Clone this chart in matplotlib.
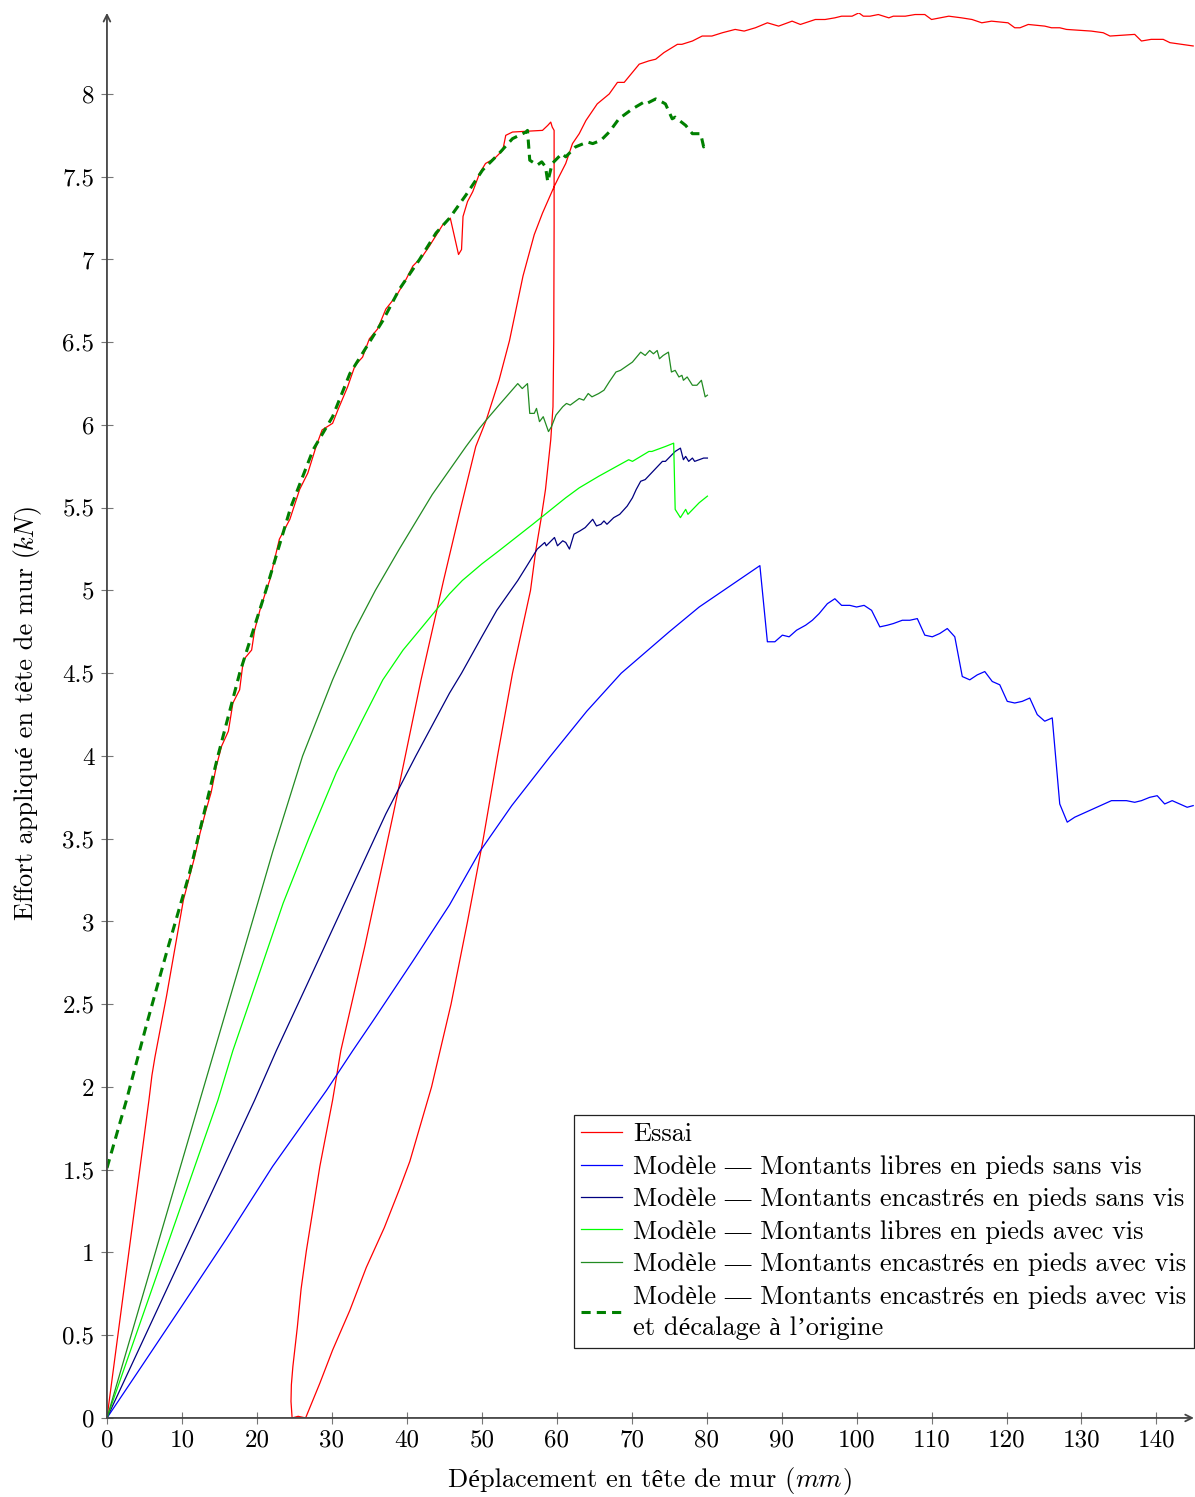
import matplotlib
matplotlib.use("Agg")
import matplotlib.pyplot as plt
from matplotlib.ticker import FuncFormatter

plt.rcParams['font.family'] = ['cmr10', 'Liberation Serif']
plt.rcParams['axes.unicode_minus'] = False

# ### --- Essai (charge, décharge, recharge) -----------------------------
essai_x = [0, 5.6, 6.0, 6.4, 7.95, 10.2, 11.7, 12.4, 13.2, 13.9, 14.6, 15.3, 16.2, 16.8, 17.7,
           18.2, 19.3, 19.7, 20.4, 21.1, 21.7, 23.0, 24.4, 25.7, 26.8, 27.9, 28.7, 30.1, 30.8,
           32.1, 33.1, 34.1, 35.0, 36.1, 37.2, 38.6, 39.9, 40.8, 42.1, 43.0, 44.1, 44.8, 45.8,
           46.3, 46.9, 47.3, 47.5, 48.1, 48.8, 49.7, 50.5, 51.7, 52.8, 53.2, 54.1, 58.1, 58.8,
           59.2, 59.4,
           # décharge
           59.65, 59.65, 59.6, 59.5, 59.2, 58.5, 57.9, 57.2, 56.5, 55.3, 54.1, 52.1, 50.2, 48.1,
           45.9, 43.3, 40.4, 39.0, 37.0, 34.6, 32.4, 30.1, 28.4, 26.5, 25.5, 24.7,
           # recharge
           24.55, 24.6, 24.8, 25.4, 25.9, 26.6, 28.4, 30.1, 31.2, 34.4, 38.2, 41.9, 44.9, 47.2,
           49.2, 50.6, 52.3, 53.7, 55.5, 57.0, 58.1, 59.65, 60.3, 61.2, 62.1, 63.0, 63.9, 65.4,
           67.0, 68.1, 69.0, 71.0, 72.3, 73.2, 74.3, 76.1, 76.7, 78.1, 79.4, 80.7, 82.1, 83.8,
           85.0, 86.5, 88.1, 89.6, 91.4, 92.5, 94.5, 95.8, 97.1, 98.0, 99.4, 100.3, 100.9, 101.8,
           102.9, 104.3, 104.9, 106.5, 107.8, 109.1, 110.0, 112.3, 114.0, 115.4, 116.7, 118.0,
           120.2, 121.1, 121.8, 122.9, 125.1, 126.0, 127.1, 128.0, 131.3, 132.9, 133.8, 137.1,
           138.0, 139.3, 140.9, 141.8, 143.3, 144.9]
essai_y = [0, 1.92, 2.07, 2.18, 2.55, 3.13, 3.39, 3.53, 3.67, 3.78, 3.94, 4.06, 4.15, 4.32, 4.40,
           4.58, 4.64, 4.76, 4.88, 4.98, 5.06, 5.31, 5.43, 5.61, 5.71, 5.87, 5.97, 6.01, 6.09,
           6.23, 6.36, 6.41, 6.52, 6.58, 6.70, 6.78, 6.88, 6.96, 7.02, 7.08, 7.16, 7.21, 7.25,
           7.15, 7.03, 7.06, 7.26, 7.35, 7.41, 7.52, 7.58, 7.61, 7.66, 7.75, 7.77, 7.78, 7.81,
           7.83, 7.80,
           7.78, 7.2, 6.5, 6.11, 5.91, 5.61, 5.43, 5.24, 5.0, 4.75, 4.5, 4.0, 3.5, 3.0,
           2.5, 2.0, 1.55, 1.38, 1.15, 0.91, 0.65, 0.41, 0.21, 0.0, 0.01, 0.0,
           0.1, 0.2, 0.31, 0.55, 0.78, 1.01, 1.52, 1.92, 2.22, 2.85, 3.65, 4.46, 5.06, 5.5,
           5.87, 6.03, 6.27, 6.51, 6.9, 7.15, 7.28, 7.44, 7.50, 7.58, 7.70, 7.76, 7.84, 7.94,
           8.0, 8.07, 8.07, 8.18, 8.20, 8.21, 8.25, 8.30, 8.30, 8.32, 8.35, 8.35, 8.37, 8.39,
           8.38, 8.40, 8.43, 8.41, 8.44, 8.42, 8.45, 8.45, 8.46, 8.47, 8.47, 8.49, 8.47, 8.47,
           8.48, 8.46, 8.47, 8.47, 8.48, 8.48, 8.45, 8.47, 8.46, 8.45, 8.43, 8.44,
           8.43, 8.40, 8.40, 8.42, 8.41, 8.40, 8.40, 8.39, 8.38, 8.37, 8.35, 8.36,
           8.32, 8.33, 8.33, 8.31, 8.30, 8.29]

# ### --- Modèle : montants libres en pieds sans vis ---------------------
libre_sans_x = [0, 4.0, 9.9, 15.9, 22.1, 29.3, 32.8, 35.5, 40.8, 45.7, 49.7, 54.0, 59.0, 64.0,
                68.6, 75.0, 79.0, 87.1, 88.1, 89.1, 90.1, 91.0, 92.0, 93.2, 94.1, 95.0, 96.1,
                97.1, 98.0, 99.1, 100.0, 101.0, 102.0, 103.1, 104.1, 104.9, 106.1, 107.1, 108.1,
                109.1, 110.1, 111.1, 112.1, 113.1, 114.1, 115.1, 116.1, 117.1, 118.1, 119.1,
                120.1, 121.1, 122.1, 123.1, 124.1, 125.1, 126.1, 127.1, 128.1, 129.1, 134.0,
                136.0, 137.1, 138.0, 139.1, 140.1, 141.1, 142.1, 143.1, 144.1, 144.9]
libre_sans_y = [0, 0.27, 0.67, 1.08, 1.52, 1.98, 2.22, 2.40, 2.76, 3.10, 3.42, 3.70, 3.99, 4.27,
                4.5, 4.75, 4.90, 5.15, 4.69, 4.69, 4.73, 4.72, 4.76, 4.79, 4.82, 4.86, 4.92,
                4.95, 4.91, 4.91, 4.90, 4.91, 4.88, 4.78, 4.79, 4.80, 4.82, 4.82, 4.83,
                4.73, 4.72, 4.74, 4.77, 4.72, 4.48, 4.46, 4.49, 4.51, 4.45, 4.43,
                4.33, 4.32, 4.33, 4.35, 4.25, 4.21, 4.23, 3.71, 3.60, 3.63, 3.73,
                3.73, 3.72, 3.73, 3.75, 3.76, 3.71, 3.73, 3.71, 3.69, 3.70]

# ### --- Modèle : montants encastrés en pieds sans vis ------------------
enc_sans_x = [0, 19.7, 22.6, 26.6, 31.9, 37.2, 41.2, 45.7, 47.3, 50.0, 52.0, 54.8, 55.9, 57.4,
              57.9, 58.4, 58.6, 59.7, 60.1, 60.8, 61.2, 61.7, 62.3, 63.1, 63.8, 64.8, 65.3, 65.9,
              66.3, 66.7, 67.6, 68.4, 69.4, 70.1, 70.6, 71.2, 71.8, 74.1, 74.5, 75.8, 76.5, 76.9,
              77.2, 77.6, 78.1, 78.4, 79.0, 79.6, 80.1]
enc_sans_y = [0, 1.92, 2.22, 2.61, 3.13, 3.65, 4.0, 4.38, 4.5, 4.72, 4.88, 5.06, 5.14, 5.25,
              5.27, 5.29, 5.27, 5.32, 5.27, 5.30, 5.29, 5.25, 5.34, 5.36, 5.38, 5.43, 5.39, 5.40,
              5.42, 5.40, 5.44, 5.46, 5.51, 5.56, 5.61, 5.66, 5.67, 5.78, 5.78, 5.84, 5.86, 5.79,
              5.81, 5.78, 5.80, 5.78, 5.79, 5.80, 5.80]

# ### --- Modèle : montants libres en pieds avec vis ---------------------
libre_avec_x = [0, 14.8, 16.8, 19.0, 23.5, 27.0, 30.6, 34.1, 36.8, 39.5, 41.7, 45.7, 47.4, 50.0,
                52.3, 56.8, 61.2, 63.0, 65.6, 69.6, 70.1, 72.3, 72.7, 74.5, 75.6, 75.8, 76.5,
                77.2, 77.5, 79.0, 80.1]
libre_avec_y = [0, 1.92, 2.22, 2.51, 3.11, 3.51, 3.90, 4.22, 4.46, 4.64, 4.76, 4.98, 5.06, 5.16,
                5.24, 5.40, 5.56, 5.62, 5.69, 5.79, 5.78, 5.84, 5.84, 5.87, 5.89, 5.49, 5.44,
                5.49, 5.46, 5.53, 5.57]

# ### --- Modèle : montants encastrés en pieds avec vis ------------------
enc_avec_x = [0, 6.0, 12.4, 19.4, 22.1, 26.1, 30.1, 32.8, 35.8, 39.0, 41.4, 43.4, 47.9, 49.7,
              50.6, 52.3, 54.8, 55.4, 56.1, 56.4, 57.0, 57.3, 57.7, 58.2, 58.9, 59.3, 59.9, 60.8,
              61.3, 61.8, 63.0, 63.6, 64.2, 64.7, 65.6, 66.3, 67.0, 67.9, 68.5, 70.1, 71.2, 71.8,
              72.4, 72.9, 73.4, 73.7, 74.2, 74.9, 75.3, 75.8, 76.3, 76.7, 76.9, 77.4, 78.1, 78.7,
              79.3, 79.8, 80.1]
enc_avec_y = [0, 0.93, 1.92, 3.0, 3.42, 4.0, 4.46, 4.74, 5.0, 5.25, 5.43, 5.58, 5.87, 5.98,
              6.03, 6.12, 6.25, 6.22, 6.25, 6.07, 6.07, 6.10, 6.02, 6.05, 5.96, 5.99, 6.06, 6.11,
              6.13, 6.12, 6.16, 6.15, 6.19, 6.17, 6.19, 6.21, 6.26, 6.32, 6.33, 6.38, 6.44, 6.42,
              6.45, 6.43, 6.45, 6.40, 6.42, 6.44, 6.32, 6.33, 6.29, 6.30, 6.27, 6.29, 6.24, 6.24,
              6.27, 6.17, 6.18]

# ### --- Modèle : encastrés avec vis et décalage à l'origine -----------
decal_x = [0, 2.6, 5.3, 8.0, 11.0, 14.8, 17.7, 21.2, 24.5, 27.5, 30.1, 32.4, 34.6, 36.8, 39.0,
           41.7, 43.9, 45.7, 47.9, 50.1, 52.3, 54.1, 55.9, 56.1, 56.4, 57.4, 58.0, 58.5, 58.8,
           59.4, 60.7, 61.2, 62.5, 64.1, 64.8, 65.9, 67.0, 68.3, 70.1, 71.6, 71.9, 73.2, 74.1,
           74.5, 75.4, 75.8, 77.2, 78.1, 79.2, 79.6, 80.1]
decal_y = [1.51, 1.92, 2.38, 2.82, 3.29, 4.0, 4.5, 5.0, 5.5, 5.85, 6.05, 6.31, 6.47, 6.63, 6.82,
           7.0, 7.16, 7.25, 7.39, 7.54, 7.64, 7.73, 7.77, 7.78, 7.60, 7.57, 7.59, 7.56, 7.47,
           7.58, 7.64, 7.62, 7.68, 7.71, 7.70, 7.72, 7.77, 7.85, 7.91, 7.95, 7.94, 7.97, 7.95,
           7.94, 7.85, 7.86, 7.81, 7.76, 7.76, 7.68, 7.71]

labels = ["Essai",
          "Modèle — Montants libres en pieds sans vis",
          "Modèle — Montants encastrés en pieds sans vis",
          "Modèle — Montants libres en pieds avec vis",
          "Modèle — Montants encastrés en pieds avec vis",
          "Modèle — Montants encastrés en pieds avec vis\net décalage à l’origine"]

x_title = ["Déplacement en tête de mur (", "mm", ")"]
y_title = ["Effort appliqué en tête de mur (", "kN", ")"]

x_ticks = list(range(0, 150, 10))
y_ticks = [0, 0.5, 1, 1.5, 2, 2.5, 3, 3.5, 4, 4.5, 5, 5.5, 6, 6.5, 7, 7.5, 8]

W, H = 1195, 1497
fig = plt.figure(figsize=(W / 100, H / 100), dpi=100)
ax = fig.add_axes([0.0895, 0.0528, 0.9096, 0.9386])

lw = 0.9
ax.plot(essai_x, essai_y, color='#ff0000', lw=lw, label=labels[0])
ax.plot(libre_sans_x, libre_sans_y, color='#0000ff', lw=lw, label=labels[1])
ax.plot(enc_sans_x, enc_sans_y, color='#000080', lw=lw, label=labels[2])
ax.plot(libre_avec_x, libre_avec_y, color='#00ff00', lw=lw, label=labels[3])
ax.plot(enc_avec_x, enc_avec_y, color='#228b22', lw=lw, label=labels[4])
ax.plot(decal_x, decal_y, color='#008000', lw=2.2, dashes=(3, 2), label=labels[5])

ax.set_xlim(0, 145)
ax.set_ylim(0, 8.49)
ax.set_xticks(x_ticks)
ax.set_yticks(y_ticks)
fmt = FuncFormatter(lambda v, p: '%g' % v)
ax.xaxis.set_major_formatter(fmt)
ax.yaxis.set_major_formatter(fmt)
ax.tick_params(direction='inout', length=8, width=0.8, color='#777777',
               labelsize=18, pad=5)
ax.tick_params(axis='x', pad=4)

for s in ['top', 'right', 'left', 'bottom']:
    ax.spines[s].set_visible(False)
ax.annotate('', xy=(1.0, 0), xytext=(0, 0), xycoords='axes fraction',
            arrowprops=dict(arrowstyle='->', color='#444444', lw=1.3,
                            shrinkA=0, shrinkB=0, mutation_scale=12))
ax.annotate('', xy=(0, 1.0), xytext=(0, 0), xycoords='axes fraction',
            arrowprops=dict(arrowstyle='->', color='#444444', lw=1.3,
                            shrinkA=0, shrinkB=0, mutation_scale=12))

leg = ax.legend(loc='lower right', bbox_to_anchor=(1.0, 0.05), fontsize=19,
                frameon=True, fancybox=False, edgecolor='#222222', framealpha=1,
                handlelength=1.55, handletextpad=0.4, labelspacing=0.33,
                borderpad=0.3, borderaxespad=0)
leg.get_frame().set_linewidth(0.9)
leg.get_texts()[5].set_linespacing(1.4)

# titres d'axes : texte droit + unité en italique (cmmi10), posés morceau par morceau
fams = [['cmr10', 'Liberation Serif'], ['cmmi10'], ['cmr10', 'Liberation Serif']]
fig.canvas.draw()
rdr = fig.canvas.get_renderer()
widths = []
for parts in (x_title, y_title):
    ww = []
    for txt, fam in zip(parts, fams):
        t = fig.text(0, 0, txt, fontsize=19, family=fam)
        ww.append(t.get_window_extent(rdr).width)
        t.remove()
    widths.append(ww)

# axe x : centré sous les axes, ligne de base à 1487 px du haut
x0 = (107 + 1087 / 2) - sum(widths[0]) / 2
for txt, fam, w in zip(x_title, fams, widths[0]):
    fig.text(x0 / W, (H - 1487) / H, txt, fontsize=19, family=fam,
             ha='left', va='baseline')
    x0 += w

# axe y : texte vertical centré sur les axes (712 px du haut), ligne de base à x = 33 px
y0 = (H - 712) - sum(widths[1]) / 2
for txt, fam, w in zip(y_title, fams, widths[1]):
    fig.text(33 / W, y0 / H, txt, fontsize=19, family=fam, rotation=90,
             rotation_mode='anchor', ha='left', va='baseline')
    y0 += w

fig.savefig('out.png', dpi=100)
